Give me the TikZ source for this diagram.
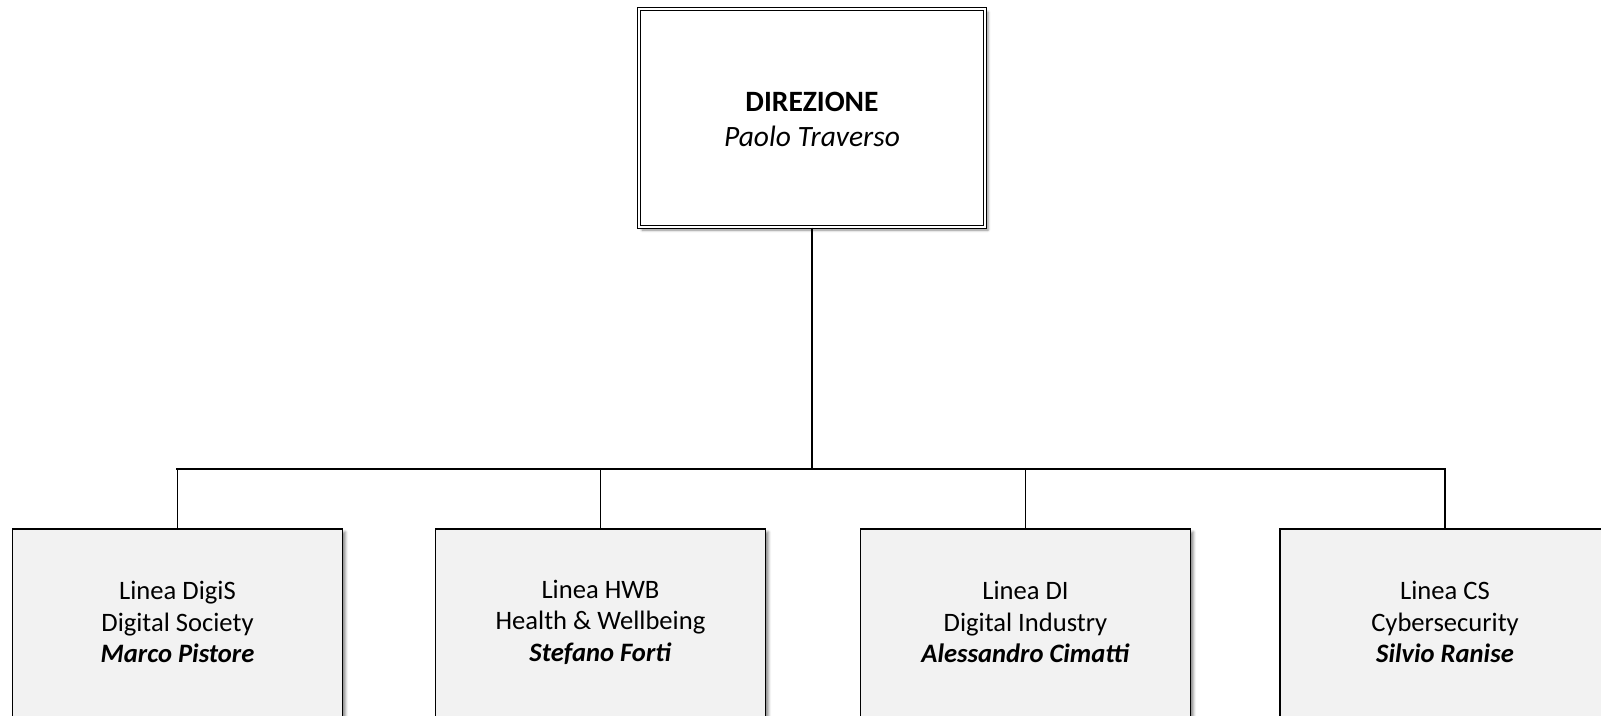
\documentclass[tikz,border=0pt]{standalone}
\usepackage{fontspec}
\setmainfont{Carlito}
\usetikzlibrary{shadows.blur}
\tikzset{
  topbox/.style={draw=black, line width=1.2pt, double=white, double distance=1.6pt, fill=white,
    minimum width=346pt, minimum height=218pt, inner sep=0pt,
    blur shadow={shadow xshift=3pt, shadow yshift=-3pt, shadow blur radius=2.5pt, shadow opacity=45}},
  linebox/.style={draw=black, line width=1.4pt, fill=gray!10,
    minimum width=330pt, minimum height=231pt, inner sep=0pt,
    blur shadow={shadow xshift=3pt, shadow yshift=-3pt, shadow blur radius=2.5pt, shadow opacity=45}},
  toptext/.style={align=center, font=\fontsize{29.5}{35}\selectfont, inner sep=0pt},
  boxtext/.style={align=center, font=\fontsize{26.6}{31.5}\selectfont, inner sep=0pt},
  trunk/.style={draw=black, line width=2.2pt},
  branch/.style={draw=black, line width=1.6pt},
}
\begin{document}
\begin{tikzpicture}[x=1pt, y=-1pt]
\useasboundingbox (0,0) rectangle (1601,715);
\clip (0,0) rectangle (1601,715);
\node[topbox] (top) at (812,118) {};
\node[toptext] (toptxt) at (812,119) {\textbf{DIREZIONE}\\\textit{Paolo Traverso}};

\node[linebox] (b1) at (177.5,644.5) {};
\node[linebox] (b2) at (600.5,644.5) {};
\node[linebox] (b3) at (1025.5,644.5) {};
\node[linebox] (b4) at (1445,644.5) {};

\node[boxtext] (t1) at (177.5,622) {Linea DigiS\\Digital Society\\\textbf{\textit{Marco Pistore}}};
\node[boxtext] (t2) at (600.5,622) {Linea HWB\\Health \& Wellbeing\\\textbf{\textit{Stefano Forti}}};
\node[boxtext] (t3) at (1025.5,622) {Linea DI\\Digital Industry\\\textbf{\textit{Alessandro Cimatti}}};
\node[boxtext] (t4) at (1445,622) {Linea CS\\Cybersecurity\\\textbf{\textit{Silvio Ranise}}};

\coordinate (bus) at (814,469);
\draw[trunk] (top.south) -- (top.south |- bus);
\draw[trunk, line cap=rect] (b1.north |- bus) -- (b4.north |- bus);
\foreach \b in {b1,b2,b3,b4} {
  \draw[branch] (\b.north |- bus) -- (\b.north);
}
\end{tikzpicture}
\end{document}
